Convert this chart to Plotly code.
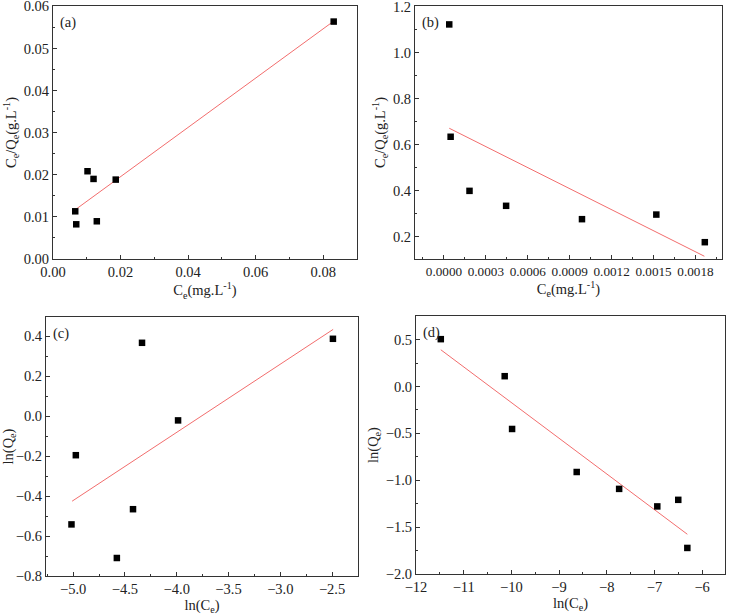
import plotly.graph_objects as go

# ---------------- data ----------------
# (a) Langmuir (Ce vs Ce/Qe)
a_x = [0.0831, 0.00658, 0.00688, 0.01022, 0.0120, 0.01297, 0.01857]
a_y = [0.0564, 0.01133, 0.00824, 0.02085, 0.01902, 0.00896, 0.01886]
a_fit_x = [0.00658, 0.0831]
a_fit_y = [0.0117, 0.0565]

# (b)
b_x = [0.000038, 0.000048, 0.000183, 0.000445, 0.000988, 0.00152, 0.001867]
b_y = [1.123, 0.635, 0.400, 0.335, 0.277, 0.297, 0.177]
b_fit_x = [0.000038, 0.001864]
b_fit_y = [0.672, 0.116]

# (c) Freundlich ln(Ce) vs ln(Qe)
c_x = [-5.016, -4.974, -4.578, -4.422, -4.335, -3.987, -2.492]
c_y = [-0.542, -0.196, -0.710, -0.466, 0.366, -0.022, 0.386]
c_fit_x = [-5.01, -2.49]
c_fit_y = [-0.426, 0.433]

# (d)
d_x = [-11.48, -10.14, -9.985, -8.63, -7.74, -6.94, -6.50, -6.31]
d_y = [0.505, 0.110, -0.453, -0.912, -1.092, -1.279, -1.209, -1.722]
d_fit_x = [-11.48, -6.31]
d_fit_y = [0.392, -1.576]

panels = [
    ("(a)", a_x, a_y, a_fit_x, a_fit_y),
    ("(b)", b_x, b_y, b_fit_x, b_fit_y),
    ("(c)", c_x, c_y, c_fit_x, c_fit_y),
    ("(d)", d_x, d_y, d_fit_x, d_fit_y),
]

W, H = 729, 615
# plot-area pixel boxes (left, right, top, bottom)
boxes = [(53, 357, 6, 259), (415, 722, 6, 259), (46, 358, 317, 576), (416, 725, 316, 574)]

xtitles = ["C<sub>e</sub>(mg.L<sup>-1</sup>)", "C<sub>e</sub>(mg.L<sup>-1</sup>)",
           "ln(C<sub>e</sub>)", "ln(C<sub>e</sub>)"]
ytitles = ["C<sub>e</sub>/Q<sub>e</sub>(g.L<sup>-1</sup>)", "C<sub>e</sub>/Q<sub>e</sub>(g.L<sup>-1</sup>)",
           "ln(Q<sub>e</sub>)", "ln(Q<sub>e</sub>)"]
xranges = [[0, 0.09], [-0.000207, 0.00199], [-5.262, -2.25], [-12.0, -5.52]]
yranges = [[0, 0.0601], [0.104, 1.203], [-0.8, 0.495], [-2.0, 0.752]]
xdt = [(0.02, 0.01), (0.0003, 0.00015), (0.5, 0.25), (1, 0.5)]
ydt = [(0.01, 0.005), (0.2, 0.1), (0.2, 0.1), (0.5, 0.25)]
xfmt = [".2f", ".4f", ".1f", "d"]
yfmt = [".2f", ".1f", ".1f", ".1f"]
xfs = [14.5, 13.2, 14.5, 14.5]

FONT = "Liberation Serif"
FS = 14.5
fig = go.Figure()
layout = dict(width=W, height=H, margin=dict(l=0, r=0, t=0, b=0, autoexpand=False),
              paper_bgcolor="white", plot_bgcolor="white", showlegend=False,
              font=dict(family=FONT, size=FS, color="#222"))
annotations = []
for i, (lab, x, y, fx, fy) in enumerate(panels):
    n = "" if i == 0 else str(i + 1)
    L, R, T, B = boxes[i]
    fig.add_trace(go.Scatter(x=fx, y=fy, mode="lines", xaxis="x" + n, yaxis="y" + n,
                             line=dict(color="#f26d6d", width=1)))
    fig.add_trace(go.Scatter(x=x, y=y, mode="markers", xaxis="x" + n, yaxis="y" + n,
                             marker=dict(symbol="square", size=6.5, color="black")))
    common = dict(showgrid=False, zeroline=False, showline=True, linecolor="#333",
                  linewidth=1, mirror=True, ticks="inside", ticklen=4, tickcolor="#333",
                  ticklabeloverflow="allow", automargin=False)
    layout["xaxis" + n] = dict(common, domain=[L / W, R / W], range=xranges[i],
                               anchor="y" + n, dtick=xdt[i][0], tick0=0,
                               tickformat=xfmt[i], tickangle=0,
                               tickfont=dict(family=FONT, size=xfs[i], color="#222"),
                               minor=dict(ticks="inside", ticklen=2, dtick=xdt[i][1],
                                          tickcolor="#333", showgrid=False),
                               title=dict(text=xtitles[i], standoff=1,
                                          font=dict(family=FONT, size=FS, color="#222")))
    layout["yaxis" + n] = dict(common, domain=[1 - B / H, 1 - T / H], range=yranges[i],
                               anchor="x" + n, dtick=ydt[i][0], tick0=0,
                               tickformat=yfmt[i],
                               tickfont=dict(family=FONT, size=FS, color="#222"),
                               minor=dict(ticks="inside", ticklen=2, dtick=ydt[i][1],
                                          tickcolor="#333", showgrid=False),
                               title=dict(text=ytitles[i], standoff=3,
                                          font=dict(family=FONT, size=FS, color="#222")))
    annotations.append(dict(text=lab, xref="x" + n + " domain", yref="y" + n + " domain",
                            x=0.015, y=0.975, xanchor="left", yanchor="top",
                            showarrow=False, font=dict(family=FONT, size=FS, color="#222")))
layout["annotations"] = annotations
fig.update_layout(**layout)
fig.write_html("out.html", config={"displayModeBar": False},
               post_script="document.body.style.margin='0px';document.body.style.padding='0px';")
